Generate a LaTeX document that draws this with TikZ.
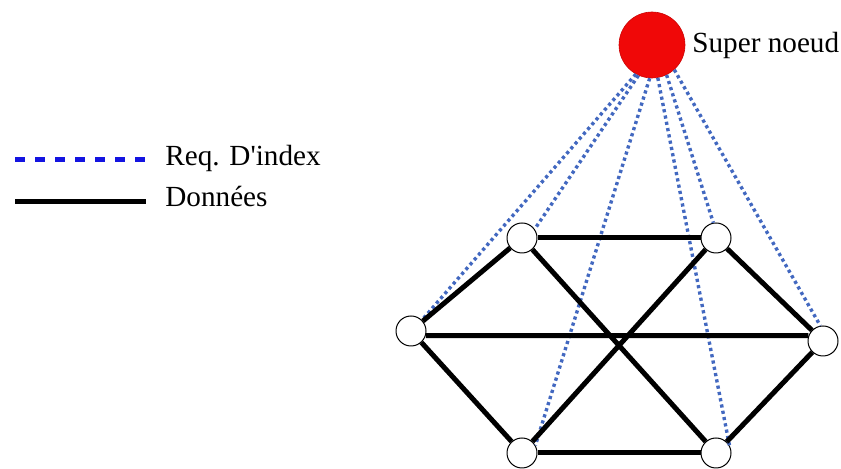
\documentclass[tikz,border=0pt]{standalone}
\usepackage{fontspec}
\setmainfont{Liberation Serif}
\newfontfamily\legendfont{Liberation Serif}
\usepackage{tikz}
\usetikzlibrary{calc}

\definecolor{reqblue}{RGB}{66,104,192}
\definecolor{legblue}{RGB}{20,20,225}
\definecolor{superred}{RGB}{240,8,8}

\begin{document}
\begin{tikzpicture}[x=0.5pt, y=-0.5pt,
  peer/.style={circle, draw=black, line width=0.5pt, fill=white, minimum size=15pt, inner sep=0},
  superpeer/.style={circle, fill=superred, draw=superred!85!black, line width=0.3pt, minimum size=33pt, inner sep=0},
  data/.style={line width=2.5pt, black},
  req/.style={line width=1.7pt, reqblue, dash pattern=on 1.6pt off 1.6pt},
  legtext/.style={font=\legendfont\fontsize{14.6}{17}\selectfont, inner sep=0, anchor=base west}]
\useasboundingbox (0,0) rectangle (841,469);

\path (652,45) node[superpeer] (super) {};
\path (692,53) node[legtext] (super-label) {Super noeud};

\path (522,238) node[peer] (top-left) {};
\path (716,238) node[peer] (top-right) {};
\path (411,331) node[peer] (left) {};
\path (823,341) node[peer] (right) {};
\path (522,453) node[peer] (bottom-left) {};
\path (716,453) node[peer] (bottom-right) {};

% requetes d'index
\draw[req] (super.241) -- (left.45);
\draw[req] (super.246) -- (top-left.35);
\draw[req] (super.266) -- (bottom-left.30);
\draw[req] (super.280) -- (bottom-right.30);
\draw[req] (super.296) -- (top-right.100);
\draw[req] (super.312) -- (right.100);

% donnees
\draw[data] (top-left) -- (top-right);
\draw[data] (top-left) -- (left);
\draw[data] (left) -- (bottom-left);
\draw[data] (bottom-left) -- (bottom-right);
\draw[data] (top-right) -- (right);
\draw[data] (right) -- (bottom-right);
\draw[data] (left.-17) -- (right.160);
\draw[data] (top-left) -- (bottom-right);
\draw[data] (top-right) -- (bottom-left);

% legende
\coordinate (req-start) at (15,160);
\coordinate (req-end) at (148,160);
\coordinate (data-start) at (15,202);
\coordinate (data-end) at (146,202);
\draw[line width=2.5pt, legblue, dash pattern=on 5pt off 5pt] (req-start) -- (req-end);
\draw[data] (data-start) -- (data-end);
\path (165,166) node[legtext] (req-label) {Req. D'index};
\path (165,207) node[legtext] (data-label) {Données};

\end{tikzpicture}
\end{document}
